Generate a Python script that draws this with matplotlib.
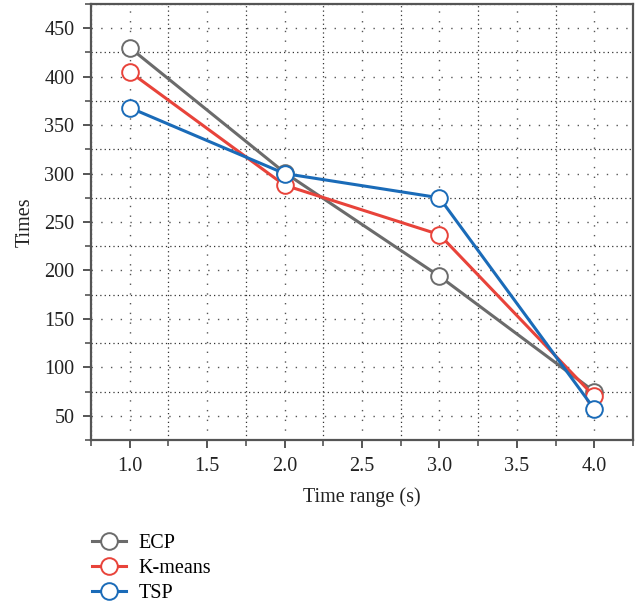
import matplotlib
matplotlib.use("Agg")
import matplotlib.pyplot as plt
from matplotlib.ticker import MultipleLocator

x = [1.0, 2.0, 3.0, 4.0]
ecp = [430, 301, 194, 75]
kmeans = [405, 288, 237, 70]
tsp = [368, 300, 275, 57]
labels = ["ECP", "K-means", "TSP"]
colors = ["#6b6b6b", "#e8433a", "#1a6bb8"]

plt.rcParams['font.family'] = ['Liberation Serif', 'DejaVu Serif']

fig = plt.figure(figsize=(6.38, 6.08), dpi=100)
ax = fig.add_axes([91/638, 1 - 440/608, (633-91)/638, (440-4)/608])

handles = []
for ys, c, lab in zip([ecp, kmeans, tsp], colors, labels):
    h, = ax.plot(x, ys, color=c, lw=2.2, marker='o', markersize=12,
                 markerfacecolor='white', markeredgecolor=c, markeredgewidth=1.4,
                 label=lab, zorder=3)
    handles.append(h)

ax.set_xlim(0.75, 4.25)
ax.set_ylim(25, 475)
ax.xaxis.set_major_locator(MultipleLocator(0.5))
ax.xaxis.set_minor_locator(MultipleLocator(0.25))
ax.yaxis.set_major_locator(MultipleLocator(50))
ax.yaxis.set_minor_locator(MultipleLocator(25))
ax.set_yticks([50, 100, 150, 200, 250, 300, 350, 400, 450])
ax.set_xticks([1.0, 1.5, 2.0, 2.5, 3.0, 3.5, 4.0])
ax.set_xticklabels(["1.0", "1.5", "2.0", "2.5", "3.0", "3.5", "4.0"])

ax.grid(which='major', color='#555555', linestyle=(0, (1, 6)), lw=1.0)
ax.grid(which='minor', color='#333333', linestyle=(0, (1, 2.5)), lw=0.9)

for s in ax.spines.values():
    s.set_color('#555555')
    s.set_linewidth(1.6)

ax.tick_params(which='major', direction='out', length=6, width=1.4, color='#555555',
               labelsize=14.5, labelcolor='#222222', pad=6)
ax.tick_params(which='minor', direction='out', length=4, width=1.2, color='#555555')
ax.tick_params(top=False, right=False, which='both')

ax.set_xlabel("Time range (s)", fontsize=14.5, color='#222222', labelpad=8)
ax.set_ylabel("Times", fontsize=14.5, color='#222222', labelpad=7)

fig.legend(handles=handles, labels=labels, loc='upper left',
           bbox_to_anchor=(84/638, 1 - 526/608), frameon=False, fontsize=14.5,
           handlelength=1.7, labelspacing=0.3, borderaxespad=0, handletextpad=0.6)

fig.savefig("out.png", dpi=100)
